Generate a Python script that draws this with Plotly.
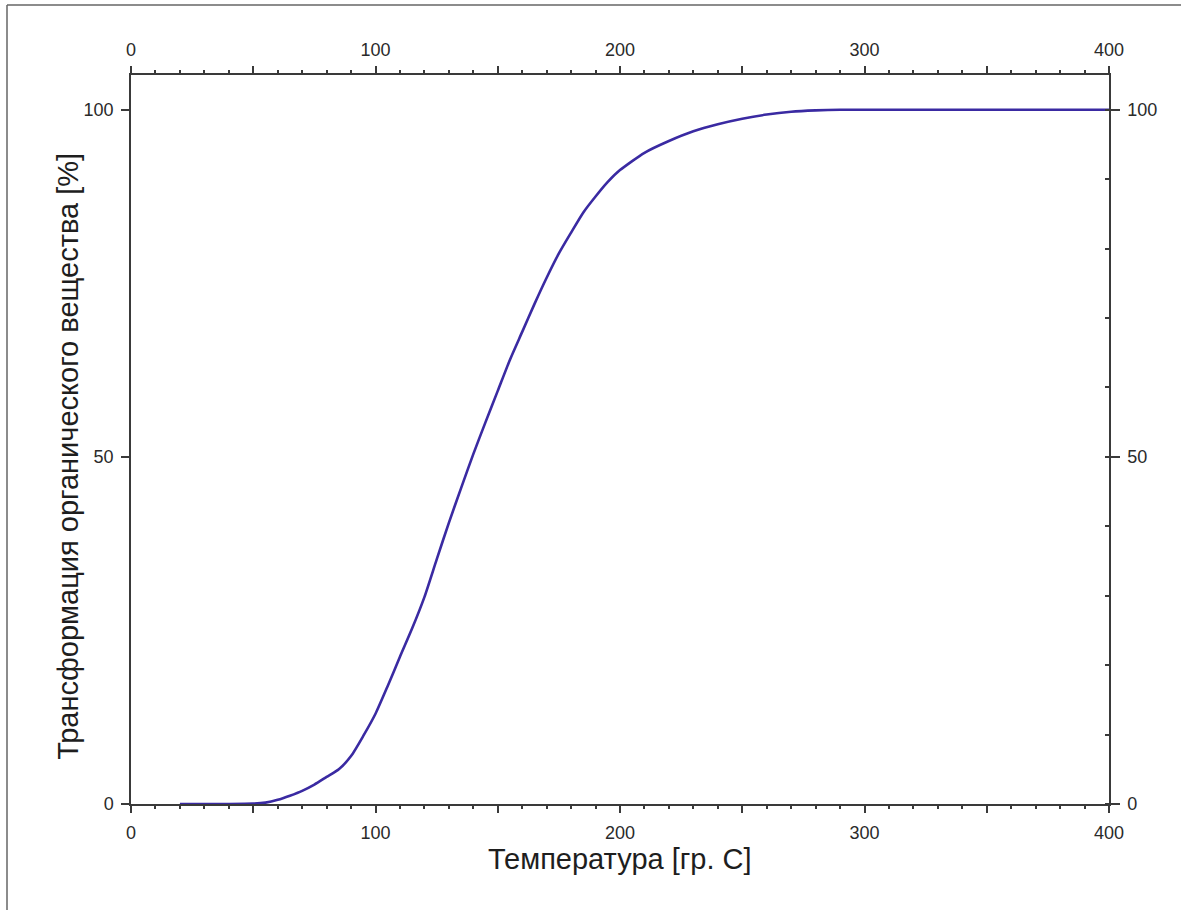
import plotly.graph_objects as go

# Data
temperature = [20, 30, 40, 50, 55, 60, 65, 70, 75, 80, 85, 90, 95, 100, 105, 110, 115, 120,
               125, 130, 135, 140, 145, 150, 155, 160, 165, 170, 175, 180, 185, 190, 195, 200,
               210, 220, 230, 240, 250, 260, 270, 280, 290, 300, 350, 400]
transformation = [0, 0, 0, 0.05, 0.2, 0.6, 1.2, 1.9, 2.8, 3.9, 5.0, 6.9, 9.8, 13.0, 17.0, 21.2,
                  25.3, 29.8, 35.2, 40.5, 45.5, 50.4, 55.0, 59.5, 64.0, 68.0, 72.0, 75.8, 79.3,
                  82.3, 85.2, 87.5, 89.6, 91.3, 93.8, 95.5, 96.9, 97.9, 98.7, 99.3, 99.7, 99.9,
                  100, 100, 100, 100]
x_tickvals = [0, 50, 100, 150, 200, 250, 300, 350, 400]
x_ticktext = ["0", "", "100", "", "200", "", "300", "", "400"]
y_tickvals = [0, 50, 100]
y_ticktext = ["0", "50", "100"]

x_title = "Температура [гр. С]"
y_title = "Трансформация органического вещества [%]"

W, H = 1181, 910
L, R, T, B = 131, 72, 75, 106
pw, ph = W - L - R, H - T - B

axis_color = "#3a3a3a"
label_font = dict(family="Liberation Sans, Arial, sans-serif", size=18, color="#2a2a2a")
title_font = dict(family="Liberation Sans, Arial, sans-serif", size=29, color="#1e1e1e")

fig = go.Figure()
fig.add_trace(go.Scatter(x=temperature, y=transformation, mode="lines",
                         line=dict(color="#3a2aa2", width=2.6, shape="spline", smoothing=0.6),
                         showlegend=False, hoverinfo="skip", xaxis="x", yaxis="y"))
fig.add_trace(go.Scatter(x=temperature, y=transformation, mode="lines",
                         line=dict(color="rgba(0,0,0,0)", width=0), showlegend=False,
                         hoverinfo="skip", xaxis="x2", yaxis="y2"))

common_x = dict(range=[0, 400], tickvals=x_tickvals, ticktext=x_ticktext, ticks="outside",
                ticklen=7, tickwidth=1.5, tickcolor=axis_color, showline=True,
                linecolor=axis_color, linewidth=1.5, showgrid=False, zeroline=False,
                tickfont=label_font,
                minor=dict(dtick=10, tick0=0, ticks="outside", ticklen=3, tickwidth=1.5,
                           tickcolor=axis_color, showgrid=False))

fig.update_layout(
    width=W, height=H,
    margin=dict(l=L, r=R, t=T, b=B, pad=0),
    paper_bgcolor="white", plot_bgcolor="white",
    xaxis=dict(**common_x, side="bottom", anchor="y", ticklabelstandoff=5),
    xaxis2=dict(**common_x, side="top", anchor="y", overlaying="x", matches="x",
                ticklabelstandoff=3),
    yaxis=dict(range=[0, 105], tickvals=y_tickvals, ticktext=y_ticktext, ticks="outside",
               ticklen=8, tickwidth=1.5, tickcolor=axis_color, showline=True,
               linecolor=axis_color, linewidth=1.5, showgrid=False, zeroline=False,
               tickfont=label_font, ticklabelstandoff=4, anchor="x"),
    yaxis2=dict(range=[0, 105], tickvals=y_tickvals, ticktext=y_ticktext, ticks="outside",
                ticklen=9, tickwidth=1.5, tickcolor=axis_color, showline=True,
                linecolor=axis_color, linewidth=1.5, showgrid=False, zeroline=False,
                tickfont=label_font, ticklabelstandoff=4, side="right", overlaying="y",
                anchor="x", matches="y",
                minor=dict(dtick=10, tick0=0, ticks="inside", ticklen=4, tickwidth=1.5,
                           tickcolor=axis_color, showgrid=False)),
    showlegend=False,
)

# axis titles
fig.add_annotation(text=x_title, xref="x", yref="paper", x=200,
                   y=(H - 859 - B) / ph, showarrow=False, yanchor="middle",
                   font=title_font)
fig.add_annotation(text=y_title, xref="paper", yref="y", x=(68 - L) / pw, y=50,
                   showarrow=False, textangle=-90, xanchor="center",
                   font=title_font)

# outer frame (top and left edges visible in the reference)
fx0 = (7 - L) / pw
fx1 = (W + 2 - L) / pw
fy_top = (H - 5 - B) / ph
fy_bot = (-2 - B) / ph
fig.add_shape(type="line", xref="paper", yref="paper", x0=fx0, x1=fx1, y0=fy_top, y1=fy_top,
              line=dict(color="#666666", width=1.5))
fig.add_shape(type="line", xref="paper", yref="paper", x0=fx0, x1=fx0, y0=fy_bot, y1=fy_top,
              line=dict(color="#666666", width=1.5))

fig.write_html("out.html")
